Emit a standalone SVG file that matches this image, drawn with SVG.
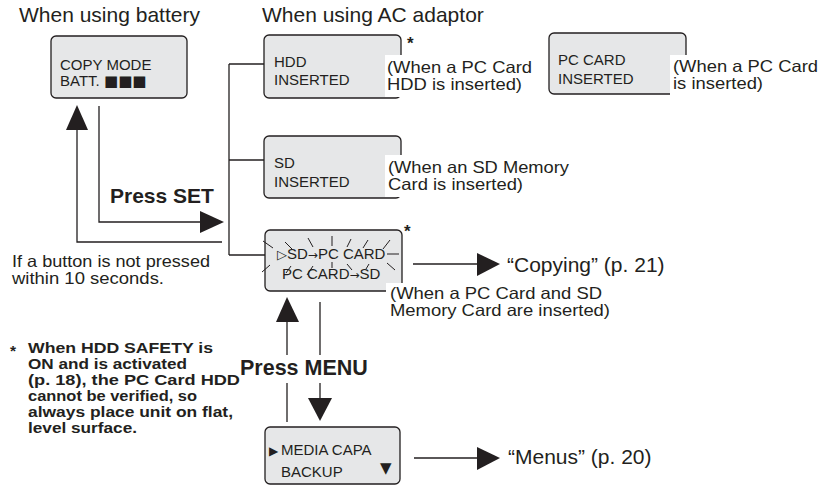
<svg xmlns="http://www.w3.org/2000/svg" width="822" height="487" viewBox="0 0 822 487">
<style>
.box{fill:#e6e7e8;stroke:#231f20;stroke-width:1.3}
.ln{fill:none;stroke:#231f20;stroke-width:1.3}
.fl{fill:none;stroke:#231f20;stroke-width:1}
.ah{fill:#231f20}
.wb{fill:#fff}
text{font-family:"Liberation Sans",Arial,sans-serif;fill:#231f20}
.hd{font-size:21px}
.bx{font-size:15px}
.lb{font-size:16.5px}
.big{font-size:21px}
.bd{font-weight:bold}
.fn{font-weight:bold;font-size:15.5px}
.sym{font-family:"DejaVu Sans",sans-serif}
</style>
<rect width="822" height="487" fill="#fff"/>

<text class="hd" x="19" y="22">When using battery</text>
<text class="hd" x="262" y="22">When using AC adaptor</text>

<g id="connectors">
  <polyline class="ln" points="222,242 77,242 77,128"/>
  <polygon class="ah" points="66,130 88,130 77,105"/>
  <polyline class="ln" points="99,106 99,222 202,222"/>
  <polygon class="ah" points="200,211 200,233 224,222"/>
  <line class="ln" x1="229" y1="64" x2="229" y2="255"/>
  <line class="ln" x1="229" y1="64" x2="264" y2="64"/>
  <line class="ln" x1="229" y1="160" x2="264" y2="160"/>
  <line class="ln" x1="229" y1="255" x2="277" y2="255"/>
  <line class="ln" x1="413" y1="264" x2="478" y2="264"/>
  <polygon class="ah" points="477,253 477,276 500,264"/>
  <line class="ln" x1="287" y1="355" x2="287" y2="320"/>
  <line class="ln" x1="287" y1="383" x2="287" y2="422"/>
  <polygon class="ah" points="276,322 299,322 287,297"/>
  <line class="ln" x1="320" y1="302" x2="320" y2="355"/>
  <line class="ln" x1="320" y1="383" x2="320" y2="400"/>
  <polygon class="ah" points="308,398 332,398 320,421"/>
  <line class="ln" x1="414" y1="458" x2="478" y2="458"/>
  <polygon class="ah" points="477,447 477,470 500,458"/>
</g>

<text class="big bd" x="110" y="203">Press SET</text>
<text class="bd" x="240" y="375" font-size="21.5">Press MENU</text>

<text class="lb" x="12" y="267" textLength="198" lengthAdjust="spacingAndGlyphs">If a button is not pressed</text>
<text class="lb" x="12" y="284" textLength="152" lengthAdjust="spacingAndGlyphs">within 10 seconds.</text>

<g id="battery">
  <rect class="box" x="51" y="36" width="136" height="62" rx="5"/>
  <text class="bx" x="60" y="70">COPY MODE</text>
  <text class="bx" x="60" y="86">BATT.<tspan class="sym" x="104">■■■</tspan></text>
</g>

<g id="hdd">
  <rect class="box" x="264" y="35" width="137" height="63" rx="5"/>
  <text class="bx" x="274" y="67">HDD</text>
  <text class="bx" x="274" y="85">INSERTED</text>
  <rect class="wb" x="385" y="55" width="155" height="42"/>
  <text class="lb" x="387" y="73" textLength="145" lengthAdjust="spacingAndGlyphs">(When a PC Card</text>
  <text class="lb" x="387" y="90" textLength="135" lengthAdjust="spacingAndGlyphs">HDD is inserted)</text>
  <text class="bd" x="407" y="49" font-size="17">*</text>
</g>

<g id="pccard">
  <rect class="box" x="549" y="33" width="137" height="61" rx="5"/>
  <text class="bx" x="558" y="65">PC CARD</text>
  <text class="bx" x="558" y="84">INSERTED</text>
  <rect class="wb" x="670" y="55" width="152" height="40"/>
  <text class="lb" x="673" y="72" textLength="145" lengthAdjust="spacingAndGlyphs">(When a PC Card</text>
  <text class="lb" x="673" y="89" textLength="90" lengthAdjust="spacingAndGlyphs">is inserted)</text>
</g>

<g id="sd">
  <rect class="box" x="264" y="136" width="137" height="62" rx="5"/>
  <text class="bx" x="274" y="168">SD</text>
  <text class="bx" x="274" y="187">INSERTED</text>
  <rect class="wb" x="385" y="155" width="190" height="42"/>
  <text class="lb" x="388" y="173" textLength="181" lengthAdjust="spacingAndGlyphs">(When an SD Memory</text>
  <text class="lb" x="388" y="190" textLength="135" lengthAdjust="spacingAndGlyphs">Card is inserted)</text>
</g>

<g id="copy">
  <rect class="box" x="265" y="230" width="137" height="61" rx="5"/>
  <g class="fl">
    <line x1="263" y1="241" x2="273" y2="248"/>
    <line x1="285" y1="242" x2="292" y2="249"/>
    <line x1="308" y1="238" x2="313" y2="247"/>
    <line x1="332" y1="236" x2="332" y2="246"/>
    <line x1="351" y1="239" x2="347" y2="247"/>
    <line x1="368" y1="240" x2="363" y2="248"/>
    <line x1="390" y1="240" x2="383" y2="249"/>
    <line x1="387" y1="254" x2="399" y2="254"/>
    <line x1="387" y1="263" x2="395" y2="270"/>
    <line x1="262" y1="272" x2="270" y2="265"/>
    <line x1="291" y1="266" x2="286" y2="273"/>
    <line x1="313" y1="266" x2="307" y2="275"/>
    <line x1="332" y1="262" x2="332" y2="268"/>
    <line x1="347" y1="264" x2="352" y2="270"/>
    <line x1="369" y1="264" x2="366" y2="269"/>
  </g>
  <text class="bx" x="277" y="259"><tspan class="sym" font-size="13">▷</tspan>SD<tspan class="sym" font-size="12">→</tspan>PC CARD</text>
  <text class="bx" x="282" y="279">PC CARD<tspan class="sym" font-size="12">→</tspan>SD</text>
  <text class="bd" x="404" y="237" font-size="17">*</text>
  <rect class="wb" x="386" y="283" width="228" height="36"/>
  <text class="lb" x="390" y="299" textLength="212" lengthAdjust="spacingAndGlyphs">(When a PC Card and SD</text>
  <text class="lb" x="390" y="316" textLength="220" lengthAdjust="spacingAndGlyphs">Memory Card are inserted)</text>
</g>

<text class="big" x="507" y="272">“Copying” (p. 21)</text>

<g id="menu">
  <rect class="box" x="265" y="427" width="135" height="57" rx="5"/>
  <text class="bx" x="269" y="455"><tspan class="sym" font-size="12">▶</tspan><tspan x="281">MEDIA CAPA</tspan></text>
  <text class="bx" x="281" y="477">BACKUP</text>
  <text class="bx sym" x="380" y="473" font-size="10">▼</text>
</g>

<text class="big" x="508" y="464">“Menus” (p. 20)</text>

<g id="footnote">
  <text class="fn" x="10" y="356">*</text>
  <text class="fn" x="28" y="353" textLength="185" lengthAdjust="spacingAndGlyphs">When HDD SAFETY is</text>
  <text class="fn" x="28" y="369" textLength="159" lengthAdjust="spacingAndGlyphs">ON and is activated</text>
  <text class="fn" x="28" y="385" textLength="212" lengthAdjust="spacingAndGlyphs">(p. 18), the PC Card HDD</text>
  <text class="fn" x="28" y="401" textLength="169" lengthAdjust="spacingAndGlyphs">cannot be verified, so</text>
  <text class="fn" x="28" y="417" textLength="205" lengthAdjust="spacingAndGlyphs">always place unit on flat,</text>
  <text class="fn" x="28" y="433" textLength="109" lengthAdjust="spacingAndGlyphs">level surface.</text>
</g>
</svg>
